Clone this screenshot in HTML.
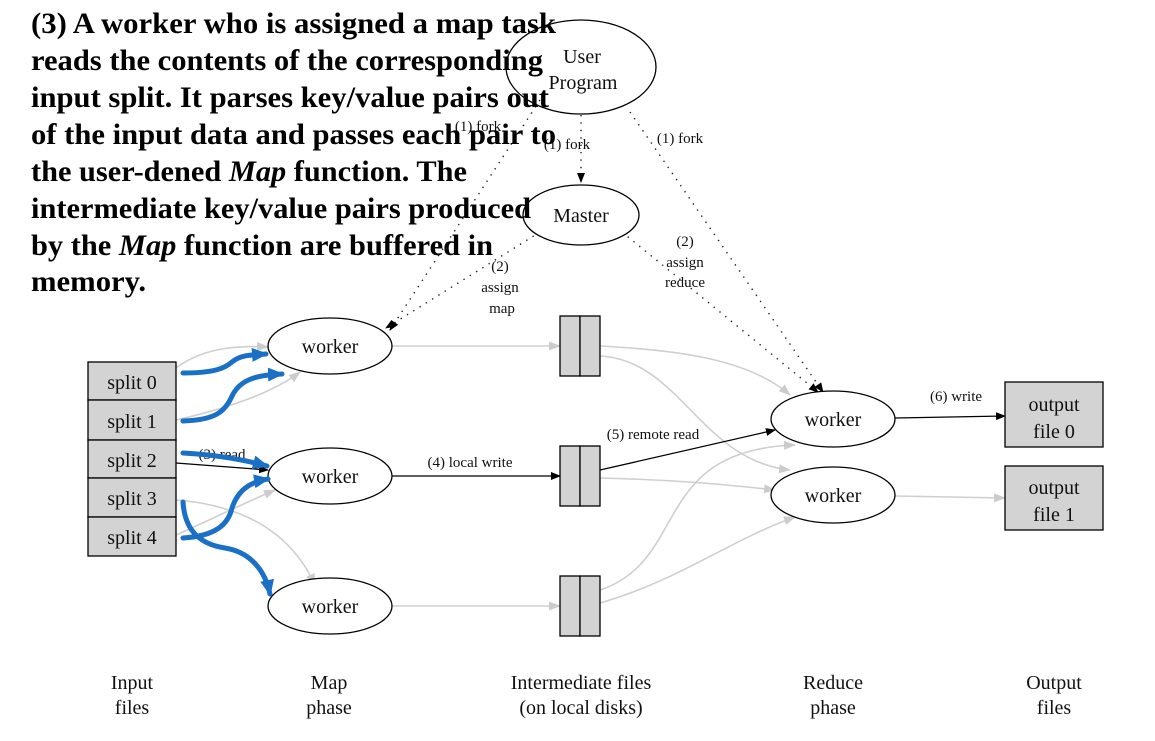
<!DOCTYPE html>
<html><head><meta charset="utf-8"><style>
html,body{margin:0;padding:0;background:#fff;}
svg{display:block;}
.s{font-family:"Liberation Serif",serif;fill:#111;}
</style></head><body>
<svg width="1155" height="741" viewBox="0 0 1155 741" xmlns="http://www.w3.org/2000/svg">
<defs>
<marker id="ab" markerWidth="10" markerHeight="8" refX="9" refY="4" orient="auto" markerUnits="userSpaceOnUse"><path d="M0,0 L10,4 L0,8z" fill="#000"/></marker>
<marker id="ag" markerWidth="12" markerHeight="9" refX="11" refY="4.5" orient="auto" markerUnits="userSpaceOnUse"><path d="M0,0 L12,4.5 L0,9z" fill="#ccc"/></marker>
<marker id="au" markerWidth="16" markerHeight="14" refX="14" refY="7" orient="auto" markerUnits="userSpaceOnUse"><path d="M0,0 L16,7 L0,14z" fill="#1a6fc6"/></marker>
</defs>

<g fill="none" stroke="#cfcfcf" stroke-width="1.6">
<path d="M176,368 C200,350 230,345 268,347" marker-end="url(#ag)"/>
<path d="M176,420 C220,410 270,395 300,372" marker-end="url(#ag)"/>
<path d="M176,535 C210,520 240,505 275,490" marker-end="url(#ag)"/>
<path d="M176,500 C240,505 290,530 315,585" marker-end="url(#ag)"/>
<path d="M392,346 L560,346" marker-end="url(#ag)"/>
<path d="M392,606 L560,606" marker-end="url(#ag)"/>
<path d="M600,346 C680,350 750,360 790,395" marker-end="url(#ag)"/>
<path d="M600,356 C680,360 700,460 790,470" marker-end="url(#ag)"/>
<path d="M600,478 C680,480 730,485 775,490" marker-end="url(#ag)"/>
<path d="M600,590 C690,560 650,450 795,445" marker-end="url(#ag)"/>
<path d="M600,603 C680,580 730,540 795,517" marker-end="url(#ag)"/>
<path d="M895,496 L1005,498" marker-end="url(#ag)"/>
</g>

<g fill="none" stroke="#000" stroke-width="1.3">
<path d="M176,463 L268,470" marker-end="url(#ab)"/>
<path d="M392,476 L560,476" marker-end="url(#ab)"/>
<path d="M600,470 L775,430" marker-end="url(#ab)"/>
<path d="M895,418 L1005,416" marker-end="url(#ab)"/>
</g>

<g fill="none" stroke="#222" stroke-width="1.4" stroke-dasharray="1.4 6">
<path d="M581,115 L581,182" marker-end="url(#ab)"/>
<path d="M540,100 L390,330" marker-end="url(#ab)"/>
<path d="M630,112 L823,392" marker-end="url(#ab)"/>
<path d="M540,232 L386,328" marker-end="url(#ab)"/>
<path d="M622,232 L818,392" marker-end="url(#ab)"/>
</g>

<g stroke="#000" stroke-width="1.3">
<ellipse cx="581" cy="67" rx="75" ry="47" fill="none"/>
<ellipse cx="581" cy="215" rx="58" ry="30" fill="#fff"/>
<ellipse cx="330" cy="346" rx="62" ry="28" fill="#fff"/>
<ellipse cx="330" cy="476" rx="62" ry="28" fill="#fff"/>
<ellipse cx="330" cy="606" rx="62" ry="28" fill="#fff"/>
<ellipse cx="833" cy="419" rx="62" ry="28" fill="#fff"/>
<ellipse cx="833" cy="495" rx="62" ry="28" fill="#fff"/>
<g fill="#d3d3d3">
<rect x="88" y="362" width="88" height="38"/>
<rect x="88" y="400" width="88" height="40"/>
<rect x="88" y="440" width="88" height="38"/>
<rect x="88" y="478" width="88" height="39"/>
<rect x="88" y="517" width="88" height="39"/>
<rect x="560" y="316" width="20" height="60"/><rect x="580" y="316" width="20" height="60"/>
<rect x="560" y="446" width="20" height="60"/><rect x="580" y="446" width="20" height="60"/>
<rect x="560" y="576" width="20" height="60"/><rect x="580" y="576" width="20" height="60"/>
<rect x="1005" y="382" width="98" height="65"/>
<rect x="1005" y="466" width="98" height="64"/>
</g>
</g>

<g class="s" font-size="20" text-anchor="middle">
<text x="582" y="63">User</text>
<text x="583" y="89">Program</text>
<text x="581" y="222">Master</text>
<text x="330" y="353">worker</text>
<text x="330" y="483">worker</text>
<text x="330" y="613">worker</text>
<text x="833" y="426">worker</text>
<text x="833" y="502">worker</text>
<text x="132" y="389">split 0</text>
<text x="132" y="428">split 1</text>
<text x="132" y="467">split 2</text>
<text x="132" y="505">split 3</text>
<text x="132" y="544">split 4</text>
<text x="1054" y="411">output</text>
<text x="1054" y="438">file 0</text>
<text x="1054" y="494">output</text>
<text x="1054" y="521">file 1</text>
<text x="132" y="689">Input</text><text x="132" y="714">files</text>
<text x="329" y="689">Map</text><text x="329" y="714">phase</text>
<text x="581" y="689">Intermediate files</text><text x="581" y="714">(on local disks)</text>
<text x="833" y="689">Reduce</text><text x="833" y="714">phase</text>
<text x="1054" y="689">Output</text><text x="1054" y="714">files</text>
</g>
<g class="s" font-size="15" text-anchor="middle" fill="#333">
<text x="567" y="149">(1) fork</text>
<text x="478" y="131">(1) fork</text>
<text x="680" y="143">(1) fork</text>
<text x="500" y="271">(2)</text>
<text x="500" y="292">assign</text>
<text x="502" y="313">map</text>
<text x="685" y="246">(2)</text>
<text x="685" y="267">assign</text>
<text x="685" y="287">reduce</text>
<text x="470" y="467">(4) local write</text>
<text x="653" y="439">(5) remote read</text>
<text x="956" y="401">(6) write</text>
<text x="222" y="459">(3) read</text>
</g>

<g fill="none" stroke="#1a6fc6" stroke-width="5" stroke-linecap="round">
<path d="M183,373 C215,373 225,368 232,362 C240,355 250,355 266,354" marker-end="url(#au)"/>
<path d="M183,421 C215,420 225,412 232,396 C240,380 255,375 282,374" marker-end="url(#au)"/>
<path d="M183,453 C220,455 245,460 267,466" marker-end="url(#au)"/>
<path d="M183,538 C215,536 228,525 232,508 C238,490 250,482 268,479" marker-end="url(#au)"/>
<path d="M183,502 C185,535 205,545 225,548 C250,552 265,570 270,594" marker-end="url(#au)"/>
</g>

<g font-family="'Liberation Serif',serif" font-weight="bold" font-size="30" fill="#000">
<text x="31" y="33" textLength="525" lengthAdjust="spacingAndGlyphs">(3) A worker who is assigned a map task</text>
<text x="31" y="70" textLength="512" lengthAdjust="spacingAndGlyphs">reads the contents of the corresponding</text>
<text x="31" y="107" textLength="518" lengthAdjust="spacingAndGlyphs">input split. It parses key/value pairs out</text>
<text x="31" y="144" textLength="525" lengthAdjust="spacingAndGlyphs">of the input data and passes each pair to</text>
<text x="31" y="181" textLength="436" lengthAdjust="spacingAndGlyphs">the user-dened <tspan font-style="italic">Map</tspan> function. The</text>
<text x="31" y="218" textLength="500" lengthAdjust="spacingAndGlyphs">intermediate key/value pairs produced</text>
<text x="31" y="255" textLength="462" lengthAdjust="spacingAndGlyphs">by the <tspan font-style="italic">Map</tspan> function are buffered in</text>
<text x="31" y="291" textLength="115" lengthAdjust="spacingAndGlyphs">memory.</text>
</g>
</svg>
</body></html>
